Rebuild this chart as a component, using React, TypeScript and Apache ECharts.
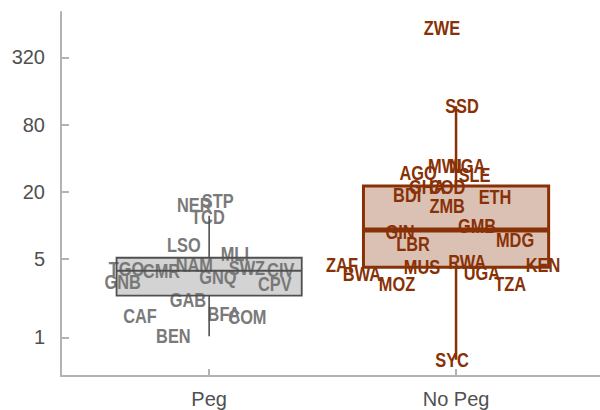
import React, { useEffect, useRef } from 'react';
import * as echarts from 'echarts';

// ---- data ----
const groups = ['Peg', 'No Peg'];
const yTicks = [1, 5, 20, 80, 320];

const pegNames = ['STP', 'NER', 'TCD', 'LSO', 'MLI', 'NAM', 'SWZ', 'CIV', 'TGO', 'CMR', 'GNQ', 'GNB', 'CPV', 'GAB', 'BFA', 'COM', 'CAF', 'BEN'];
const pegValues = [16.7, 15.3, 12.0, 6.7, 5.56, 4.5, 4.23, 4.06, 4.14, 3.94, 3.48, 3.14, 3.04, 2.16, 1.64, 1.53, 1.55, 1.03];
const pegJitter = [0.035, -0.06, -0.005, -0.102, 0.104, -0.06, 0.153, 0.29, -0.335, -0.193, 0.035, -0.35, 0.266, -0.086, 0.06, 0.155, -0.28, -0.145];

const noPegNames = ['ZWE', 'SSD', 'MWI', 'NGA', 'AGO', 'SLE', 'GHA', 'COD', 'BDI', 'ETH', 'ZMB', 'GMB', 'GIN', 'LBR', 'MDG', 'RWA', 'ZAF', 'MUS', 'KEN', 'BWA', 'UGA', 'MOZ', 'TZA', 'SYC'];
const noPegValues = [593, 117, 34, 34, 29.7, 28.3, 22.1, 22.1, 18.7, 18.1, 15.0, 10.0, 8.8, 6.93, 7.42, 4.75, 4.43, 4.28, 4.43, 3.68, 3.79, 3.04, 3.04, 0.63];
const noPegJitter = [-0.057, 0.024, -0.045, 0.045, -0.154, 0.075, -0.117, -0.036, -0.198, 0.158, -0.036, 0.085, -0.227, -0.174, 0.239, 0.045, -0.462, -0.138, 0.352, -0.381, 0.105, -0.239, 0.219, -0.016];

// box statistics: [lower whisker, Q1, median, Q3, upper whisker]
const pegBox = [1.02, 2.36, 3.94, 5.15, 12.2];
const noPegBox = [0.63, 4.23, 9.12, 22.6, 117];

// ---- styles ----
const FONT = '"Liberation Sans Narrow", "Arial Narrow", "Liberation Sans", Arial, sans-serif';
const looks = [
  { text: '#7a7a7a', stroke: '#505050', fill: 'rgba(119,119,119,0.32)', box: 1.8, median: 2, whisker: 1.6 },
  { text: '#883107', stroke: '#883107', fill: 'rgba(136,49,7,0.3)', box: 3, median: 5, whisker: 2.5 },
];
const AXIS_COLOR = '#b3b3b3';
const HALF = 0.375;
const NARROW = 0.78;

export default function App() {
  const ref = useRef<HTMLDivElement>(null);
  useEffect(() => {
    if (!ref.current) return;
    const chart = echarts.init(ref.current, null, { renderer: 'svg' });

    const labelSets = [
      { names: pegNames, values: pegValues, jitter: pegJitter, pos: 1 },
      { names: noPegNames, values: noPegValues, jitter: noPegJitter, pos: 2 },
    ];
    const boxes = [pegBox, noPegBox];

    const labelSeries = labelSets.map((set, gi) => ({
      type: 'custom',
      z: 2,
      silent: true,
      data: set.names.map((n, i) => ({ name: n, value: [set.pos + set.jitter[i], Math.log10(set.values[i])] })),
      renderItem: (params: any, api: any) => {
        const p = api.coord([api.value(0), api.value(1)]);
        return {
          type: 'text',
          x: p[0],
          y: p[1],
          scaleX: NARROW,
          style: {
            text: set.names[params.dataIndex],
            fill: looks[gi].text,
            fontSize: 21,
            fontWeight: 'bold',
            fontFamily: FONT,
            align: 'center',
            verticalAlign: 'middle',
          },
        };
      },
    }));

    const boxSeries = {
      type: 'custom',
      z: 3,
      silent: true,
      data: boxes.map((b, i) => [i + 1, ...b.map((v) => Math.log10(v))]),
      renderItem: (params: any, api: any) => {
        const lk = looks[params.dataIndex];
        const x = api.value(0);
        const pMin = api.coord([x, api.value(1)]);
        const pQ1 = api.coord([x - HALF, api.value(2)]);
        const pMed = api.coord([x - HALF, api.value(3)]);
        const pQ3 = api.coord([x + HALF, api.value(4)]);
        const pMax = api.coord([x, api.value(5)]);
        const pMedR = api.coord([x + HALF, api.value(3)]);
        return {
          type: 'group',
          children: [
            { type: 'line', shape: { x1: pMin[0], y1: pMin[1], x2: pMin[0], y2: pQ1[1] }, style: { stroke: lk.stroke, lineWidth: lk.whisker } },
            { type: 'line', shape: { x1: pMax[0], y1: pQ3[1], x2: pMax[0], y2: pMax[1] }, style: { stroke: lk.stroke, lineWidth: lk.whisker } },
            { type: 'rect', shape: { x: pQ1[0], y: pQ3[1], width: pQ3[0] - pQ1[0], height: pQ1[1] - pQ3[1] }, style: { fill: lk.fill, stroke: lk.stroke, lineWidth: lk.box } },
            { type: 'line', shape: { x1: pMed[0], y1: pMed[1], x2: pMedR[0], y2: pMedR[1] }, style: { stroke: lk.stroke, lineWidth: lk.median } },
          ],
        };
      },
    };

    chart.setOption({
      animation: false,
      grid: { left: 61, right: 0, top: 12, bottom: 34 },
      xAxis: {
        type: 'value',
        min: 0.4,
        max: 2.583,
        splitLine: { show: false },
        axisLine: { onZero: false, lineStyle: { color: AXIS_COLOR, width: 2 } },
        axisTick: { inside: true, length: 7, customValues: [1, 2], lineStyle: { color: AXIS_COLOR, width: 2 } },
        axisLabel: {
          customValues: [1, 2],
          formatter: (v: number) => groups[Math.round(v) - 1] ?? '',
          color: '#505050',
          fontSize: 20,
          fontFamily: FONT,
          margin: 13,
        },
      },
      yAxis: {
        type: 'value',
        min: -0.346,
        max: 2.91,
        splitLine: { show: false },
        axisLine: { show: true, onZero: false, lineStyle: { color: AXIS_COLOR, width: 2 } },
        axisTick: { show: true, inside: true, length: 8, customValues: yTicks.map((t) => Math.log10(t)), lineStyle: { color: AXIS_COLOR, width: 2 } },
        axisLabel: {
          customValues: yTicks.map((t) => Math.log10(t)),
          formatter: (v: number) => String(Math.round(Math.pow(10, v))),
          color: '#505050',
          fontSize: 20,
          fontFamily: FONT,
          margin: 16,
        },
      },
      series: [...labelSeries, boxSeries],
    });
    return () => chart.dispose();
  }, []);
  return <div ref={ref} style={{ position: 'absolute', left: 0, top: 0, width: 600, height: 410 }} />;
}
